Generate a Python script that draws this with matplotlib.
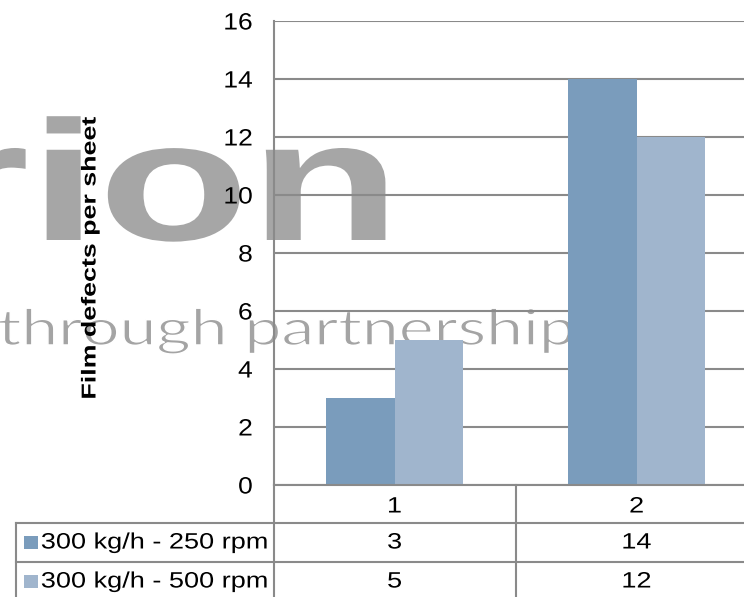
import matplotlib
matplotlib.use("Agg")
import matplotlib.pyplot as plt
from matplotlib.lines import Line2D
from matplotlib.patches import Rectangle
from matplotlib.patheffects import AbstractPathEffect
from matplotlib.transforms import Affine2D

# ---- data ----
categories = ["1", "2"]
series_names = ["300 kg/h - 250 rpm", "300 kg/h - 500 rpm"]
series_values = [[3, 14], [5, 12]]
series_colors = ["#7a9cbc", "#a0b5cd"]
y_ticks = [0, 2, 4, 6, 8, 10, 12, 14, 16]
y_label = "Film defects per sheet"

W, H = 744, 597
plt.rcParams["font.family"] = ["Liberation Sans", "DejaVu Sans"]


class Stretch(AbstractPathEffect):
    """Widen glyphs along one axis, keeping a chosen edge of the ink fixed.
    An optional white outline (``thin``, in points) slims the strokes."""

    def __init__(self, sx=1.0, sy=1.0, anchor="center", thin=0.0):
        super().__init__()
        self.sx, self.sy, self.anchor, self.thin = sx, sy, anchor, thin

    def draw_path(self, renderer, gc, tpath, affine, rgbFace=None):
        bb = tpath.get_extents(affine)
        if self.anchor == "left":
            cx = bb.x0
        elif self.anchor == "right":
            cx = bb.x1
        else:
            cx = (bb.x0 + bb.x1) / 2
        cy = (bb.y0 + bb.y1) / 2
        extra = (Affine2D().translate(-cx, -cy)
                 .scale(self.sx, self.sy).translate(cx, cy))
        renderer.draw_path(gc, tpath, affine + extra, rgbFace)
        if self.thin > 0:
            gc2 = renderer.new_gc()
            gc2.copy_properties(gc)
            gc2.set_foreground("white")
            gc2.set_linewidth(self.thin)
            renderer.draw_path(gc2, tpath, affine + extra, None)
            gc2.restore()


fig = plt.figure(figsize=(W / 100, H / 100), dpi=100)
fig.patch.set_facecolor("white")


def fx(px):
    return px / W


def fy(py):
    return 1 - py / H


GRID = "#8a8a8a"
LW = 1.5
FS_TICK = 17
FS_TAB = 16
TAB_SX = 1.22

# background watermark
fig.text(fx(-62), fy(240), "rion", fontsize=123, fontweight="bold",
         color="#a6a6a6", ha="left", va="baseline", zorder=-5,
         path_effects=[Stretch(sx=1.45, anchor="left")])
fig.text(fx(-2), fy(345), "through partnership", fontsize=36,
         color="#a4a4a4", ha="left", va="baseline", zorder=-5,
         family=["Lato", "DejaVu Sans"],
         path_effects=[Stretch(sx=1.32, anchor="left", thin=1.1)])

# plot area
x0, x1 = 273.5, 273.5 + 2 * 242
y_top, y_bot = 21, 485
ax = fig.add_axes([fx(x0), fy(y_bot), fx(x1 - x0), (y_bot - y_top) / H])
ax.patch.set_alpha(0)
ax.set_xlim(0.5, 2.5)
ax.set_ylim(0, 16)

bar_w = 0.283
xs = list(range(1, len(categories) + 1))
for i, (vals, col) in enumerate(zip(series_values, series_colors)):
    off = (i - 0.5) * bar_w
    ax.bar([x + off for x in xs], vals, width=bar_w, color=col, zorder=3,
           edgecolor="none")

ax.set_yticks(y_ticks)
ax.set_yticklabels([str(t) for t in y_ticks], fontsize=FS_TICK)
ax.tick_params(axis="y", length=0, pad=15)
for lab in ax.get_yticklabels():
    lab.set_path_effects([Stretch(sx=1.12, anchor="right")])
ax.set_xticks([])
ax.yaxis.grid(True, color=GRID, linewidth=LW, zorder=1)
ax.set_axisbelow(True)
for s in ["top", "right", "bottom"]:
    ax.spines[s].set_visible(False)
ax.spines["left"].set_color(GRID)
ax.spines["left"].set_linewidth(LW)

fig.text(fx(90), fy(258), y_label, fontsize=14.5, fontweight="bold",
         rotation=90, ha="center", va="center",
         path_effects=[Stretch(sy=1.33)])

# data table below the plot
row_edges = [485, 523, 562, 601]
col_edges = [16, x0, 515.7, x1]


def hline(y, xa, xb):
    fig.add_artist(Line2D([fx(xa), fx(xb)], [fy(y), fy(y)], color=GRID,
                          linewidth=LW, transform=fig.transFigure, zorder=5))


def vline(x, ya, yb):
    fig.add_artist(Line2D([fx(x), fx(x)], [fy(ya), fy(yb)], color=GRID,
                          linewidth=LW, transform=fig.transFigure, zorder=5))


hline(row_edges[0], x0, x1)
hline(row_edges[1], col_edges[0], x1)
hline(row_edges[2], col_edges[0], x1)
vline(col_edges[0], row_edges[1], row_edges[3])
for cx in col_edges[1:]:
    vline(cx, row_edges[0], row_edges[3])

cat_centers = [(col_edges[k] + col_edges[k + 1]) / 2 for k in range(1, 3)]
for c, cx in zip(categories, cat_centers):
    fig.text(fx(cx), fy(507), c, fontsize=FS_TAB, ha="center", va="center",
             path_effects=[Stretch(sx=TAB_SX)])

for r, (name, vals, col) in enumerate(zip(series_names, series_values,
                                           series_colors)):
    cy = (row_edges[r + 1] + row_edges[r + 2]) / 2
    fig.add_artist(Rectangle((fx(24), fy(cy + 6.5)), fx(13.5), 13.5 / H,
                             facecolor=col, edgecolor="none",
                             transform=fig.transFigure))
    fig.text(fx(41), fy(cy + 0.5), name, fontsize=FS_TAB, ha="left",
             va="center", path_effects=[Stretch(sx=TAB_SX, anchor="left")])
    for v, cx in zip(vals, cat_centers):
        fig.text(fx(cx), fy(cy + 0.5), str(v), fontsize=FS_TAB, ha="center",
                 va="center", path_effects=[Stretch(sx=TAB_SX)])

fig.savefig("out.png", dpi=100)
